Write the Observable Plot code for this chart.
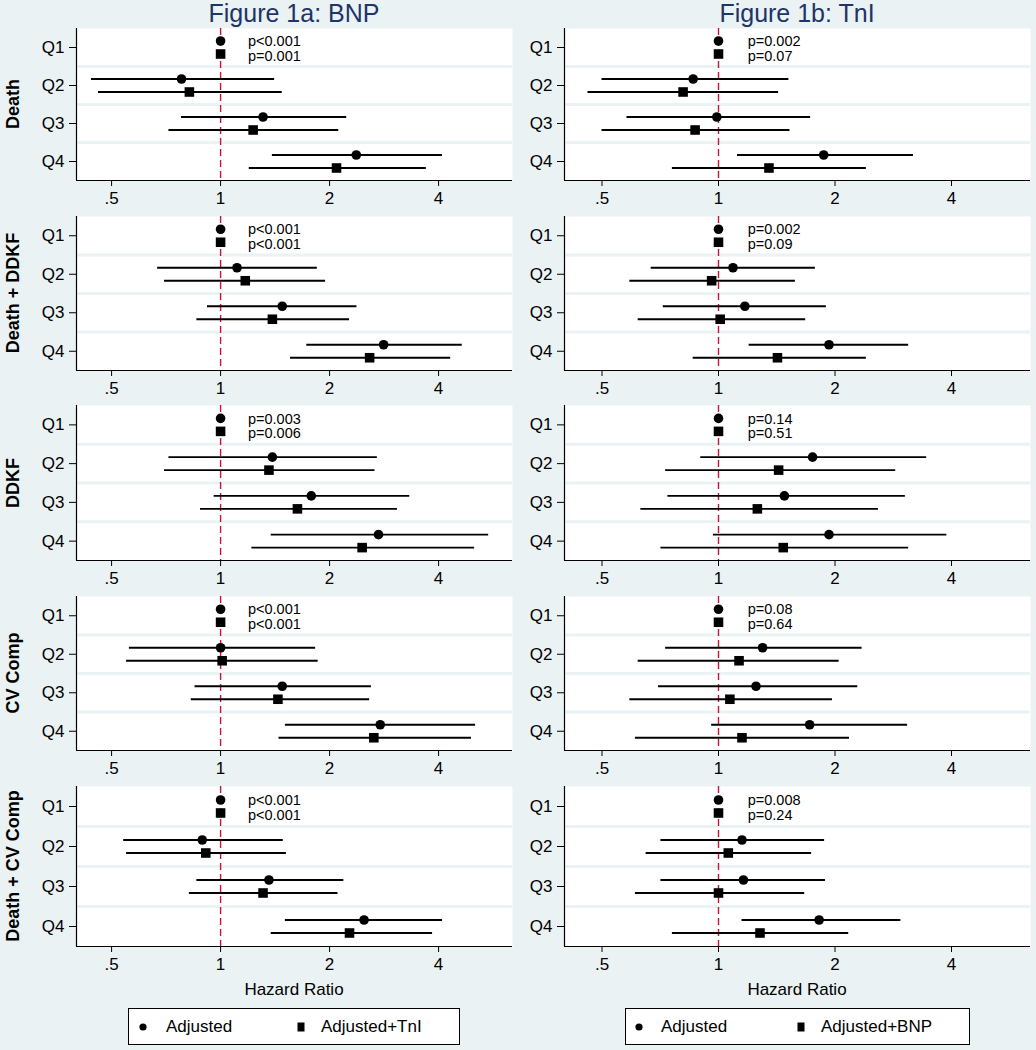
<!DOCTYPE html>
<html><head><meta charset="utf-8">
<script src="https://cdn.jsdelivr.net/npm/d3@7"></script>
<script src="https://cdn.jsdelivr.net/npm/@observablehq/plot@0.6"></script>
<style>
html,body{margin:0;padding:0;background:#eaf2f3;}
#root{position:relative;width:1036px;height:1050px;background:#eaf2f3;font-family:"Liberation Sans",Arial,Helvetica,sans-serif;overflow:hidden;}
.abs{position:absolute;}
.title{font-size:25px;color:#1f3468;text-align:center;line-height:26px;}
.rowlab{font-weight:bold;font-size:18px;white-space:nowrap;transform:translate(-50%,-50%) rotate(-90deg);color:#000;}
.xlab{font-size:17px;text-align:center;color:#000;}
.legend{background:white;border:1px solid black;box-sizing:border-box;font-size:17px;}
.legend span{position:absolute;top:50%;transform:translateY(-50%);white-space:nowrap;}
</style></head><body><div id="root"></div>
<script>
// ---------- DATA ----------
const columnTitles = ["Figure 1a: BNP", "Figure 1b: TnI"];
const outcomes = ["Death", "Death + DDKF", "DDKF", "CV Comp", "Death + CV Comp"];
const quartiles = ["Q1", "Q2", "Q3", "Q4"];
const xTicks = [0.5, 1, 2, 4];
const xTickLabels = [".5", "1", "2", "4"];
const seriesBNP = ["Adjusted", "Adjusted+TnI"];
const seriesTnI = ["Adjusted", "Adjusted+BNP"];
const axisTitle = "Hazard Ratio";

// BNP panel, "Adjusted" (circles): hazard ratio, lower and upper CI per outcome, Q1..Q4
const bnpAdjHR = [[1, 0.78, 1.31, 2.37], [1, 1.11, 1.48, 2.82], [1, 1.39, 1.78, 2.73], [1, 1.00, 1.48, 2.76], [1, 0.89, 1.36, 2.49]];
const bnpAdjLo = [[null, 0.44, 0.78, 1.39], [null, 0.67, 0.92, 1.73], [null, 0.72, 0.96, 1.38], [null, 0.56, 0.85, 1.51], [null, 0.54, 0.86, 1.51]];
const bnpAdjHi = [[null, 1.41, 2.23, 4.10], [null, 1.85, 2.38, 4.65], [null, 2.71, 3.33, 5.50], [null, 1.83, 2.61, 5.06], [null, 1.49, 2.19, 4.10]];
// BNP panel, "Adjusted+TnI" (squares)
const bnpPlusHR = [[1, 0.82, 1.23, 2.09], [1, 1.17, 1.39, 2.58], [1, 1.36, 1.63, 2.46], [1, 1.01, 1.44, 2.65], [1, 0.91, 1.31, 2.27]];
const bnpPlusLo = [[null, 0.46, 0.72, 1.20], [null, 0.70, 0.86, 1.56], [null, 0.70, 0.88, 1.22], [null, 0.55, 0.83, 1.45], [null, 0.55, 0.82, 1.38]];
const bnpPlusHi = [[null, 1.48, 2.12, 3.70], [null, 1.95, 2.27, 4.32], [null, 2.67, 3.08, 5.03], [null, 1.86, 2.58, 4.93], [null, 1.52, 2.11, 3.85]];
// TnI panel, "Adjusted" (circles)
const tniAdjHR = [[1, 0.86, 0.99, 1.87], [1, 1.09, 1.17, 1.93], [1, 1.75, 1.48, 1.93], [1, 1.30, 1.25, 1.72], [1, 1.15, 1.16, 1.82]];
const tniAdjLo = [[null, 0.50, 0.58, 1.12], [null, 0.67, 0.72, 1.20], [null, 0.90, 0.74, 0.97], [null, 0.73, 0.70, 0.96], [null, 0.71, 0.71, 1.15]];
const tniAdjHi = [[null, 1.52, 1.73, 3.19], [null, 1.78, 1.90, 3.10], [null, 3.45, 3.04, 3.89], [null, 2.35, 2.29, 3.08], [null, 1.88, 1.89, 2.96]];
// TnI panel, "Adjusted+BNP" (squares)
const tniPlusHR = [[1, 0.81, 0.87, 1.35], [1, 0.96, 1.01, 1.42], [1, 1.43, 1.26, 1.47], [1, 1.13, 1.07, 1.15], [1, 1.06, 1.00, 1.28]];
const tniPlusLo = [[null, 0.46, 0.50, 0.76], [null, 0.59, 0.62, 0.86], [null, 0.73, 0.63, 0.71], [null, 0.62, 0.59, 0.61], [null, 0.65, 0.61, 0.76]];
const tniPlusHi = [[null, 1.43, 1.53, 2.41], [null, 1.58, 1.68, 2.41], [null, 2.87, 2.59, 3.10], [null, 2.05, 1.97, 2.18], [null, 1.74, 1.67, 2.17]];
// p for trend (adjusted, adjusted+other marker)
const pBNP = [["p<0.001", "p=0.001"], ["p<0.001", "p<0.001"], ["p=0.003", "p=0.006"], ["p<0.001", "p<0.001"], ["p<0.001", "p<0.001"]];
const pTnI = [["p=0.002", "p=0.07"], ["p=0.002", "p=0.09"], ["p=0.14", "p=0.51"], ["p=0.08", "p=0.64"], ["p=0.008", "p=0.24"]];

// ---------- LAYOUT / STYLE ----------
const BG = "#eaf2f3";
const RED = "#c8143c";
const FONT = "'Liberation Sans', Arial, Helvetica, sans-serif";
const rowTops = [28, 216, 405, 596, 786];
const rowHeights = [152, 154, 155, 154, 160];
const cols = [
  {left: 0, width: 520, ml: 76, mr: 8},
  {left: 518, width: 518, ml: 46, mr: 6}
];
const MB = 34;
const X_DOMAIN = [0.4, 6.4];
const Y_DOMAIN = [0.5, 4.5];
const P_TEXT_X = 1.19;
const OFF = 6.5;

const root = document.getElementById("root");
function addDiv(cls, css, html) {
  const d = document.createElement("div");
  d.className = "abs " + cls;
  Object.assign(d.style, css);
  d.innerHTML = html;
  root.appendChild(d);
  return d;
}

const sets = [
  {adj: [bnpAdjHR, bnpAdjLo, bnpAdjHi], plus: [bnpPlusHR, bnpPlusLo, bnpPlusHi], p: pBNP, series: seriesBNP},
  {adj: [tniAdjHR, tniAdjLo, tniAdjHi], plus: [tniPlusHR, tniPlusLo, tniPlusHi], p: pTnI, series: seriesTnI}
];

function rows(arrs, r) {
  const [H, L, U] = arrs;
  return quartiles.map((q, i) => ({q: i + 1, hr: H[r][i], lo: L[r][i], hi: U[r][i]}));
}

function panel(c, r) {
  const s = sets[c];
  const adj = rows(s.adj, r);
  const plus = rows(s.plus, r);
  const pTexts = [{q: 1, label: s.p[r][0]}];
  const pTexts2 = [{q: 1, label: s.p[r][1]}];
  const col = cols[c];
  return Plot.plot({
    width: col.width,
    height: rowHeights[r] + MB,
    marginLeft: col.ml,
    marginRight: col.mr,
    marginTop: 0,
    marginBottom: MB,
    style: {background: "transparent", fontFamily: FONT, fontSize: "17px", color: "black", overflow: "visible"},
    x: {type: "log", domain: X_DOMAIN},
    y: {type: "linear", domain: Y_DOMAIN, reverse: true},
    marks: [
      Plot.frame({fill: "white", stroke: "none"}),
      Plot.ruleY([1.5, 2.5, 3.5], {stroke: BG, strokeWidth: 3}),
      Plot.ruleX([1], {stroke: RED, strokeWidth: 1.4, strokeDasharray: "7,4"}),
      Plot.ruleX([X_DOMAIN[0]], {stroke: "black", strokeWidth: 1.2}),
      Plot.ruleY([Y_DOMAIN[1]], {stroke: "black", strokeWidth: 1.2}),
      Plot.axisX({ticks: xTicks, tickFormat: d => xTickLabels[xTicks.indexOf(d)], label: null,
                  tickSize: 6, tickPadding: 5, fontSize: 17, fill: "black", stroke: "black"}),
      Plot.axisY({ticks: [1, 2, 3, 4], tickFormat: d => quartiles[d - 1], label: null,
                  tickSize: 7, tickPadding: 5, fontSize: 17, fill: "black", stroke: "black"}),
      Plot.ruleY(adj.filter(d => d.lo != null), {y: "q", x1: "lo", x2: "hi", dy: -OFF, stroke: "black", strokeWidth: 1.8}),
      Plot.ruleY(plus.filter(d => d.lo != null), {y: "q", x1: "lo", x2: "hi", dy: OFF, stroke: "black", strokeWidth: 1.8}),
      Plot.dot(adj, {x: "hr", y: "q", dy: -OFF, r: 4.8, fill: "black", stroke: "none", symbol: "circle"}),
      Plot.dot(plus, {x: "hr", y: "q", dy: OFF, r: 5.4, fill: "black", stroke: "none", symbol: "square"}),
      Plot.text(pTexts, {x: () => P_TEXT_X, y: "q", text: "label", dy: -6, textAnchor: "start", fontSize: 14.5, fill: "black"}),
      Plot.text(pTexts2, {x: () => P_TEXT_X, y: "q", text: "label", dy: 8.5, textAnchor: "start", fontSize: 14.5, fill: "black"})
    ]
  });
}

for (let c = 0; c < 2; c++) {
  const col = cols[c];
  const plotLeft = col.left + col.ml;
  const plotW = col.width - col.ml - col.mr;
  addDiv("title", {left: plotLeft + "px", width: plotW + "px", top: "0px"}, columnTitles[c]);
  for (let r = 0; r < outcomes.length; r++) {
    const svg = panel(c, r);
    svg.style.position = "absolute";
    svg.style.left = col.left + "px";
    svg.style.top = rowTops[r] + "px";
    root.appendChild(svg);
  }
  addDiv("xlab", {left: plotLeft + "px", width: plotW + "px", top: "980px"}, axisTitle);
}
for (let r = 0; r < outcomes.length; r++) {
  addDiv("rowlab", {left: "13px", top: (rowTops[r] + rowHeights[r] / 2) + "px"}, outcomes[r]);
}

// legends
const legendBoxes = [
  {left: 128, width: 332, c1: 14, t1: 37, c2: 172, t2: 192},
  {left: 625, width: 345, c1: 13, t1: 35, c2: 175, t2: 195}
];
legendBoxes.forEach((b, i) => {
  const s = sets[i].series;
  addDiv("legend", {left: b.left + "px", top: "1008px", width: b.width + "px", height: "37px"},
    `<svg class="abs" style="left:${b.c1 - 5}px;top:12px" width="10" height="12"><circle cx="5" cy="6" r="3.6" fill="black"/></svg>` +
    `<span style="left:${b.t1}px">${s[0]}</span>` +
    `<svg class="abs" style="left:${b.c2 - 5}px;top:12px" width="10" height="12"><rect x="1.5" y="1.5" width="7" height="9" fill="black"/></svg>` +
    `<span style="left:${b.t2}px">${s[1]}</span>`);
});
</script></body></html>
